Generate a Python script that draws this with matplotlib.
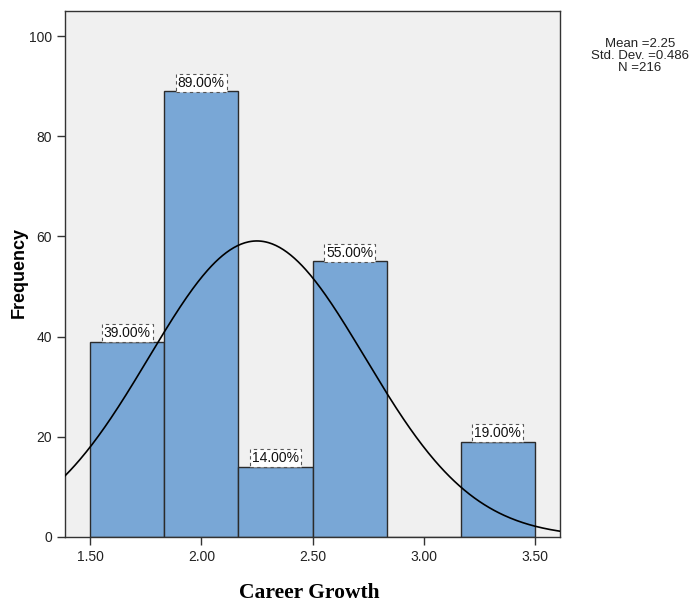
import numpy as np
import matplotlib.pyplot as plt

# Histogram of career growth scores
bin_edges = [1.5, 1.8333, 2.1667, 2.5, 2.8333, 3.1667, 3.5]
counts = [39, 89, 14, 55, 0, 19]
bar_labels = ["39.00%", "89.00%", "14.00%", "55.00%", "", "19.00%"]
mean, std, n = 2.25, 0.486, 216
tick_vals = [1.5, 2.0, 2.5, 3.0, 3.5]

fig = plt.figure(figsize=(7, 6.02), dpi=100)
ax = fig.add_axes([65 / 700, 1 - 537 / 602, 495 / 700, 526 / 602])
ax.set_facecolor("#F0F0F0")

lefts = bin_edges[:-1]
widths = np.diff(bin_edges)
ax.bar(lefts, counts, width=widths, align="edge", color="#79A7D6",
       edgecolor="#2B2B2B", linewidth=1.0, zorder=2)

for x, w, c, lab in zip(lefts, widths, counts, bar_labels):
    if lab:
        ax.text(x + w / 2, c + 0.3, lab, ha="center", va="bottom",
                fontsize=10, family="Liberation Sans", color="#111111", zorder=4,
                bbox=dict(boxstyle="square,pad=0.15", facecolor="white",
                          edgecolor="#555555", linestyle=(0, (3, 3)), linewidth=0.8))

# Normal curve scaled to the histogram
bw = bin_edges[1] - bin_edges[0]
xs = np.linspace(1.387, 3.613, 400)
ys = n * bw * np.exp(-0.5 * ((xs - mean) / std) ** 2) / (std * np.sqrt(2 * np.pi))
ax.plot(xs, ys, color="black", linewidth=1.2, zorder=3)

ax.set_xlim(1.387, 3.613)
ax.set_ylim(0, 105)
ax.set_xticks(tick_vals)
ax.set_xticklabels([f"{v:.2f}" for v in tick_vals])
ax.set_yticks([0, 20, 40, 60, 80, 100])
ax.tick_params(direction="out", length=6, width=1, labelsize=10, color="#333333",
               labelcolor="#222222")
for lbl in ax.get_xticklabels() + ax.get_yticklabels():
    lbl.set_family("Liberation Sans")
for s in ax.spines.values():
    s.set_color("#333333")
    s.set_linewidth(1.0)

# Axis titles placed in figure coordinates
fig.text(309 / 700, 1 - 593 / 602, "Career Growth", ha="center", va="center",
         family="Liberation Serif", fontsize=15.5, fontweight="bold")
fig.text(19 / 700, 1 - 273 / 602, "Frequency", ha="center", va="center",
         rotation=90, family="Liberation Sans", fontsize=13, fontweight="bold")

fig.text(640 / 700, 1 - 56 / 602, "Mean =2.25\nStd. Dev. =0.486\nN =216",
         ha="center", va="center", fontsize=9.5, family="Liberation Sans",
         linespacing=1.0, color="#222222")

fig.savefig("out.png", dpi=100)
